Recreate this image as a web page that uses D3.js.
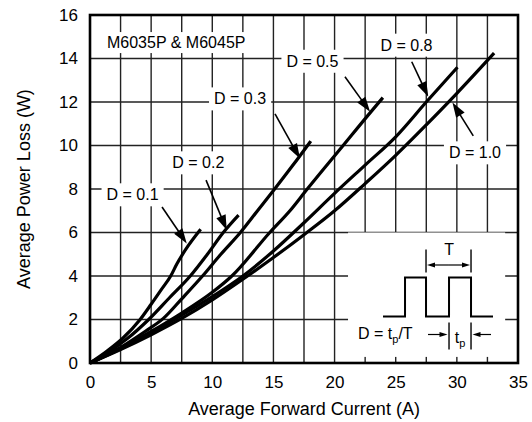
<!DOCTYPE html>
<html>
<head>
<meta charset="utf-8">
<script src="https://cdn.jsdelivr.net/npm/d3@7/dist/d3.min.js"></script>
<style>
body{margin:0;background:#fff}
text{font-family:"Liberation Sans",Arial,Helvetica,sans-serif;fill:#000}
</style>
</head>
<body>
<div id="chart"></div>
<script>
// values (current in A, power in W)
var dutyLabels = ["D = 0.1", "D = 0.2", "D = 0.3", "D = 0.5", "D = 0.8", "D = 1.0"];

var currentD01 = [0, 1.4, 2.7, 4.1, 5.0, 5.8, 6.6, 7.1, 7.8, 9.05];
var powerD01   = [0, 0.55, 1.15, 2.0, 2.7, 3.35, 4.0, 4.55, 5.2, 6.15];

var currentD02 = [0, 1.5, 3.0, 4.8, 6.5, 8.2, 9.6, 10.9, 12.15];
var powerD02   = [0, 0.5, 1.1, 2.0, 3.0, 4.0, 5.0, 6.0, 6.8];

var currentD03 = [0, 2.5, 4.5, 6.0, 7.5, 9.2, 10.7, 12.3, 13.7, 15.1, 16.6, 18.05];
var powerD03   = [0, 0.72, 1.45, 2.05, 2.95, 4.0, 5.0, 6.0, 7.0, 8.0, 9.1, 10.2];

var currentD05 = [0, 2.5, 5.0, 7.5, 10.0, 11.6, 14.7, 16.35, 17.7, 20.7, 22.9, 23.95];
var powerD05   = [0, 0.68, 1.45, 2.3, 3.25, 4.0, 6.0, 7.0, 7.95, 10.0, 11.5, 12.2];

var currentD08 = [0, 2.5, 5.0, 7.5, 10.0, 12.5, 15.0, 17.5, 20.0, 22.5, 25.0, 27.5, 30.05];
var powerD08   = [0, 0.65, 1.38, 2.2, 3.05, 4.0, 5.15, 6.45, 7.8, 9.1, 10.4, 12.0, 13.6];

var currentD10 = [0, 2.5, 5.0, 7.5, 10.0, 12.5, 15.0, 17.5, 20.0, 22.5, 25.0, 27.5, 30.0, 33.05];
var powerD10   = [0, 0.62, 1.3, 2.05, 2.9, 3.85, 4.85, 5.9, 7.0, 8.25, 9.55, 10.95, 12.4, 14.25];

var xTicks = [0, 5, 10, 15, 20, 25, 30, 35];
var yTicks = [0, 2, 4, 6, 8, 10, 12, 14, 16];
var xGrid = [2.5, 5, 7.5, 10, 12.5, 15, 17.5, 20, 22.5, 25, 27.5, 30, 32.5];
var yGrid = [2, 4, 6, 8, 10, 12, 14];

var partLabel = "M6035P & M6045P";
var xTitle = "Average Forward Current (A)";
var yTitle = "Average Power Loss (W)";

// annotation anchors in data units: label centre/baseline, arrow tail, arrow tip
var labelAt = [[3.48, 7.48], [8.86, 8.95], [12.27, 11.89], [18.19, 13.62], [25.88, 14.36], [31.48, 9.41]];
var arrowFrom = [[5.89, 7.17], [9.49, 8.41], [15.13, 11.45], [20.85, 13.16], [26.31, 13.85], [31.34, 10.44]];
var arrowTo = [[7.91, 5.50], [11.18, 6.11], [17.17, 9.40], [22.9, 11.55], [27.66, 12.24], [29.64, 11.98]];

var series = [
  [currentD01, powerD01], [currentD02, powerD02], [currentD03, powerD03],
  [currentD05, powerD05], [currentD08, powerD08], [currentD10, powerD10]
].map(function(s, i) {
  return {name: dutyLabels[i], values: s[0].map(function(c, j) { return {i: c, p: s[1][j]}; })};
});

var margin = {top: 15, right: 14, bottom: 59, left: 90};
var W = 532, H = 422;
var width = W - margin.left - margin.right;
var height = H - margin.top - margin.bottom;

var svg = d3.select("#chart").append("svg")
    .attr("width", W)
    .attr("height", H);

var g = svg.append("g").attr("transform", "translate(" + margin.left + "," + margin.top + ")");

var x = d3.scaleLinear().domain([0, 35]).range([0, width]);
var y = d3.scaleLinear().domain([0, 16]).range([height, 0]);

var gridLayer = g.append("g");
var boxLayer = g.append("g");
var curveLayer = g.append("g");
var annLayer = g.append("g");
var textLayer = g.append("g");

// grid
gridLayer.selectAll(".vg").data(xGrid).enter().append("line")
    .attr("x1", function(d) { return x(d); }).attr("x2", function(d) { return x(d); })
    .attr("y1", 0).attr("y2", height)
    .attr("stroke", "#222").attr("stroke-width", 1.4);
gridLayer.selectAll(".hg").data(yGrid).enter().append("line")
    .attr("y1", function(d) { return y(d); }).attr("y2", function(d) { return y(d); })
    .attr("x1", 0).attr("x2", width)
    .attr("stroke", "#222").attr("stroke-width", 1.4);

// axes (labels only, no outer ticks)
var xAxis = g.append("g").attr("transform", "translate(0," + height + ")")
    .call(d3.axisBottom(x).tickValues(xTicks).tickSize(0).tickPadding(13));
var yAxis = g.append("g")
    .call(d3.axisLeft(y).tickValues(yTicks).tickSize(0).tickPadding(12));
[xAxis, yAxis].forEach(function(a) {
  a.select(".domain").remove();
  a.selectAll("text").attr("font-size", 17).attr("font-family", "Liberation Sans, Arial, sans-serif").attr("fill", "#000");
});

// axis titles
svg.append("text")
    .attr("x", margin.left + width / 2).attr("y", 415)
    .attr("text-anchor", "middle").attr("font-size", 18)
    .text(xTitle);
svg.append("text")
    .attr("transform", "translate(30," + (margin.top + height / 2) + ") rotate(-90)")
    .attr("text-anchor", "middle").attr("font-size", 18)
    .text(yTitle);

// white box behind a text node
function boxBehind(t, padX, padY) {
  var b = t.node().getBBox();
  boxLayer.append("rect")
      .attr("x", b.x - padX).attr("y", b.y - padY)
      .attr("width", b.width + 2 * padX).attr("height", b.height + 2 * padY)
      .attr("fill", "#fff");
}

var part = textLayer.append("text")
    .attr("x", x(1.39)).attr("y", y(14.48))
    .attr("font-size", 16)
    .text(partLabel);
boxBehind(part, 6, 2);

// curves
var line = d3.line()
    .x(function(d) { return x(d.i); })
    .y(function(d) { return y(d.p); })
    .curve(d3.curveMonotoneX);

curveLayer.selectAll(".curve").data(series).enter().append("path")
    .attr("class", "curve")
    .attr("d", function(d) { return line(d.values); })
    .attr("fill", "none")
    .attr("stroke", "#000")
    .attr("stroke-width", 3.2);

function arrow(layer, x1, y1, x2, y2, len, wid, sw) {
  var dx = x2 - x1, dy = y2 - y1, L = Math.sqrt(dx * dx + dy * dy);
  var ux = dx / L, uy = dy / L;
  var bx = x2 - ux * len, by = y2 - uy * len;
  layer.append("line")
      .attr("x1", x1).attr("y1", y1).attr("x2", bx + ux).attr("y2", by + uy)
      .attr("stroke", "#000").attr("stroke-width", sw);
  layer.append("path")
      .attr("d", "M" + x2 + "," + y2 +
                 "L" + (bx - uy * wid / 2) + "," + (by + ux * wid / 2) +
                 "L" + (bx + uy * wid / 2) + "," + (by - ux * wid / 2) + "Z")
      .attr("fill", "#000");
}

// duty cycle labels and arrows
dutyLabels.forEach(function(lbl, k) {
  var t = textLayer.append("text")
      .attr("x", x(labelAt[k][0])).attr("y", y(labelAt[k][1]))
      .attr("text-anchor", "middle").attr("font-size", 16)
      .text(lbl);
  boxBehind(t, 5, 3);
  arrow(annLayer, x(arrowFrom[k][0]), y(arrowFrom[k][1]), x(arrowTo[k][0]), y(arrowTo[k][1]), 15, 10, 1.6);
});

// inset: duty cycle definition
var ix = x(21.1), iy = y(6.0);
boxLayer.append("rect")
    .attr("x", ix).attr("y", iy)
    .attr("width", x(33.95) - ix).attr("height", y(0.28) - iy)
    .attr("fill", "#fff");

var inset = annLayer.append("g").attr("transform", "translate(" + ix + "," + iy + ")");
inset.append("path")
    .attr("d", "M35,84H57V45H78V84H101V45H123V84H145")
    .attr("fill", "none").attr("stroke", "#000").attr("stroke-width", 2);

// T marker
[78, 123].forEach(function(px) {
  inset.append("line").attr("x1", px).attr("x2", px).attr("y1", 17).attr("y2", 40)
      .attr("stroke", "#000").attr("stroke-width", 1.4);
});
arrow(inset, 100, 32.5, 79, 32.5, 8, 5, 1.2);
arrow(inset, 100, 32.5, 122, 32.5, 8, 5, 1.2);
inset.append("text").attr("x", 101).attr("y", 22).attr("text-anchor", "middle")
    .attr("font-size", 16).text("T");

// t_p marker
[101, 123].forEach(function(px) {
  inset.append("line").attr("x1", px).attr("x2", px).attr("y1", 90).attr("y2", 117)
      .attr("stroke", "#000").attr("stroke-width", 1.4);
});
arrow(inset, 80, 102, 99.5, 102, 8, 5, 1.2);
arrow(inset, 143, 102, 124.5, 102, 8, 5, 1.2);

var tp = inset.append("text").attr("x", 112).attr("y", 110).attr("text-anchor", "middle").attr("font-size", 16);
tp.append("tspan").text("t");
tp.append("tspan").attr("font-size", 11).attr("dy", 4).text("p");

var def = inset.append("text").attr("x", 10).attr("y", 106).attr("font-size", 16);
def.append("tspan").text("D = t");
def.append("tspan").attr("font-size", 11).attr("dy", 4).text("p");
def.append("tspan").attr("dy", -4).text("/T");

// frame
g.append("rect")
    .attr("x", 0).attr("y", 0).attr("width", width).attr("height", height)
    .attr("fill", "none").attr("stroke", "#000").attr("stroke-width", 2.6);
</script>
</body>
</html>
